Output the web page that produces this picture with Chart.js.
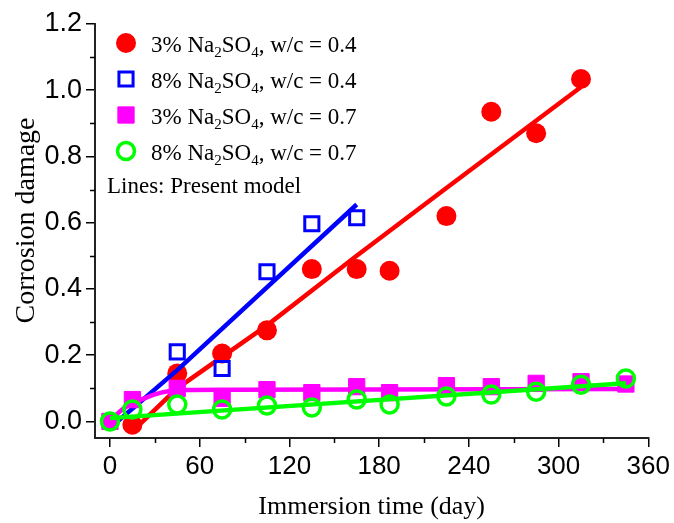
<!DOCTYPE html>
<html>
<head>
<meta charset="utf-8">
<script src="https://cdn.jsdelivr.net/npm/chart.js@4.4.1/dist/chart.umd.min.js"></script>
<style>
  html, body { margin: 0; padding: 0; background: #fff; }
  #wrap { width: 674px; height: 523px; }
</style>
</head>
<body>
<div id="wrap"><canvas id="c" width="674" height="523"></canvas></div>
<script>
// measured points (day, damage)
const red04Days   = [15, 45, 75, 105, 135, 165, 187, 225, 255, 285, 315];
const red04Vals   = [-0.01, 0.145, 0.205, 0.275, 0.46, 0.46, 0.455, 0.62, 0.935, 0.87, 1.034];
const blue04Days  = [45, 75, 105, 135, 165];
const blue04Vals  = [0.21, 0.16, 0.452, 0.597, 0.615];
const mag07Days   = [0, 15, 45, 75, 105, 135, 165, 187, 225, 255, 285, 315, 345];
const mag07Vals   = [0.0, 0.066, 0.1, 0.07, 0.096, 0.087, 0.105, 0.087, 0.108, 0.105, 0.115, 0.12, 0.113];
const green07Days = [0, 15, 45, 75, 105, 135, 165, 187, 225, 255, 285, 315, 345];
const green07Vals = [0.0, 0.036, 0.051, 0.036, 0.048, 0.042, 0.066, 0.051, 0.075, 0.081, 0.09, 0.111, 0.13];

// model lines
const redLineDays   = [15, 45, 105, 165, 225, 315];
const redLineVals   = [-0.03, 0.1, 0.29, 0.5, 0.705, 1.01];
const blueLineDays  = [5, 45, 165];
const blueLineVals  = [0.0, 0.155, 0.655];
const magLineDays   = [0, 8, 15, 22, 30, 40, 50, 80, 345];
const magLineVals   = [0.0, 0.035, 0.055, 0.068, 0.082, 0.092, 0.095, 0.096, 0.098];
const greenLineDays = [0, 345];
const greenLineVals = [0.01, 0.115];

const xTicks = [0, 60, 120, 180, 240, 300, 360];
const yTicks = [0.0, 0.2, 0.4, 0.6, 0.8, 1.0, 1.2];

const labels = [
  '3% Na_2SO_4, w/c = 0.4',
  '8% Na_2SO_4, w/c = 0.4',
  '3% Na_2SO_4, w/c = 0.7',
  '8% Na_2SO_4, w/c = 0.7'
];
const noteText = 'Lines: Present model';

const RED = '#ff0000', BLUE = '#0000ff', MAG = '#ff00ff', GREEN = '#00ff00';
const SERIF = "'Liberation Serif', 'Times New Roman', serif";
const SANS = "'Liberation Sans', Arial, sans-serif";

const pts = (xs, ys) => xs.map((x, i) => ({x: x, y: ys[i]}));

function lineSet(xs, ys, color, order, smooth) {
  return {
    type: 'line', data: pts(xs, ys), borderColor: color, borderWidth: 4.5,
    pointRadius: 0, fill: false, order: order, clip: false,
    cubicInterpolationMode: smooth ? 'monotone' : 'default', tension: 0,
    isModel: true
  };
}

const datasets = [
  {label: labels[0], data: pts(red04Days, red04Vals), pointStyle: 'circle', pointRadius: 10,
   backgroundColor: RED, borderColor: RED, borderWidth: 0, order: 8, clip: false},
  lineSet(redLineDays, redLineVals, RED, 7, false),
  {label: labels[1], data: pts(blue04Days, blue04Vals), pointStyle: 'rect', pointRadius: 10,
   backgroundColor: 'rgba(0,0,0,0)', borderColor: BLUE, borderWidth: 3, order: 6, clip: false},
  lineSet(blueLineDays, blueLineVals, BLUE, 5, false),
  {label: labels[2], data: pts(mag07Days, mag07Vals), pointStyle: 'rect', pointRadius: 11.5,
   backgroundColor: MAG, borderColor: MAG, borderWidth: 1, order: 4, clip: false},
  lineSet(magLineDays, magLineVals, MAG, 3, true),
  {label: labels[3], data: pts(green07Days, green07Vals), pointStyle: 'circle', pointRadius: 8.5,
   backgroundColor: 'rgba(0,0,0,0)', borderColor: GREEN, borderWidth: 3.5, order: 1, clip: false},
  lineSet(greenLineDays, greenLineVals, GREEN, 2, false)
];

// text with "_x" meaning subscript x
function drawRich(ctx, text, x, y, size) {
  ctx.textBaseline = 'alphabetic';
  ctx.textAlign = 'left';
  let i = 0;
  while (i < text.length) {
    if (text[i] === '_') {
      ctx.font = Math.round(size * 0.65) + 'px ' + SERIF;
      ctx.fillText(text[i + 1], x, y + size * 0.22);
      x += ctx.measureText(text[i + 1]).width;
      i += 2;
    } else {
      let j = i;
      while (j < text.length && text[j] !== '_') j++;
      const s = text.slice(i, j);
      ctx.font = size + 'px ' + SERIF;
      ctx.fillText(s, x, y);
      x += ctx.measureText(s).width;
      i = j;
    }
  }
}

const insideLegend = {
  id: 'insideLegend',
  afterDatasetsDraw(chart) {
    const ctx = chart.ctx;
    const area = chart.chartArea;
    const mx = area.left + 31;
    let my = area.top + 19;
    ctx.save();
    chart.data.datasets.filter(d => !d.isModel).forEach(d => {
      ctx.beginPath();
      ctx.lineWidth = d.borderWidth;
      ctx.strokeStyle = d.borderColor;
      ctx.fillStyle = d.backgroundColor;
      if (d.pointStyle === 'circle') {
        ctx.arc(mx, my, d.pointRadius, 0, Math.PI * 2);
      } else {
        const s = d.pointRadius * Math.SQRT1_2;
        ctx.rect(mx - s, my - s, 2 * s, 2 * s);
      }
      ctx.fill();
      if (d.borderWidth) ctx.stroke();
      ctx.fillStyle = '#000';
      drawRich(ctx, d.label, mx + 25, my + 9, 23);
      my += 36;
    });
    ctx.fillStyle = '#000';
    ctx.font = '23px ' + SERIF;
    ctx.fillText(noteText, area.left + 12, my + 6);
    ctx.restore();
  }
};

// short minor ticks between labelled ones
const minorTicks = {
  id: 'minorTicks',
  afterDraw(chart) {
    const ctx = chart.ctx;
    const xs = chart.scales.x, ys = chart.scales.y;
    ctx.save();
    ctx.strokeStyle = '#000';
    ctx.lineWidth = 1.5;
    ctx.beginPath();
    for (let i = 0; i < xTicks.length - 1; i++) {
      const px = Math.round(xs.getPixelForValue((xTicks[i] + xTicks[i + 1]) / 2)) + 0.5;
      ctx.moveTo(px, xs.top);
      ctx.lineTo(px, xs.top + 5);
    }
    for (let i = 0; i < yTicks.length - 1; i++) {
      const py = Math.round(ys.getPixelForValue((yTicks[i] + yTicks[i + 1]) / 2)) + 0.5;
      ctx.moveTo(ys.right, py);
      ctx.lineTo(ys.right - 5, py);
    }
    ctx.stroke();
    ctx.restore();
  }
};

new Chart(document.getElementById('c'), {
  type: 'scatter',
  data: {datasets: datasets},
  options: {
    responsive: false,
    animation: false,
    devicePixelRatio: 1,
    layout: {padding: {top: 24, right: 24, left: 0, bottom: 0}},
    plugins: {legend: {display: false}, tooltip: {enabled: false}},
    scales: {
      x: {
        type: 'linear', min: -10, max: 360,
        afterBuildTicks: s => { s.ticks = xTicks.map(v => ({value: v})); },
        afterFit: s => { s.height = 85; },
        grid: {drawOnChartArea: false, drawTicks: true, tickLength: 9, color: '#000', lineWidth: 1.5},
        border: {display: true, color: '#222', width: 2},
        ticks: {color: '#000', font: {family: SANS, size: 26}, padding: 4, autoSkip: false, maxRotation: 0},
        title: {display: true, text: 'Immersion time (day)', color: '#000',
                font: {family: SERIF, size: 26}, padding: {top: 0, bottom: 0}}
      },
      y: {
        type: 'linear', min: -0.05, max: 1.2,
        afterBuildTicks: s => { s.ticks = yTicks.map(v => ({value: v})); },
        afterFit: s => { s.width = 95; },
        grid: {drawOnChartArea: false, drawTicks: true, tickLength: 9, color: '#000', lineWidth: 1.5},
        border: {display: true, color: '#222', width: 2},
        ticks: {color: '#000', font: {family: SANS, size: 27}, padding: 4,
                callback: v => v.toFixed(1)},
        title: {display: true, text: '   Corrosion damage', color: '#000',
                font: {family: SERIF, size: 28}, padding: {top: 10, bottom: 0}}
      }
    }
  },
  plugins: [insideLegend, minorTicks]
});
</script>
</body>
</html>
